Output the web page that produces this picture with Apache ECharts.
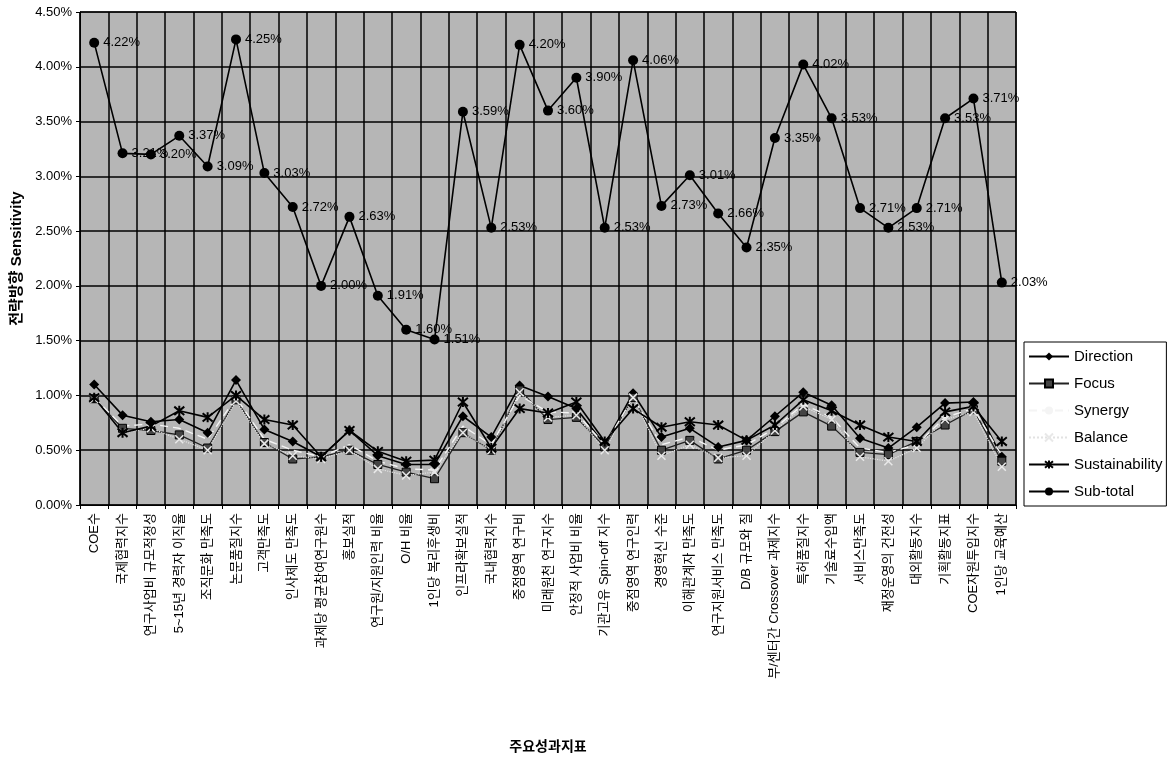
<!DOCTYPE html>
<html>
<head>
<meta charset="utf-8">
<script src="https://cdn.jsdelivr.net/npm/echarts@6/dist/echarts.min.js"></script>
<style>
  html, body { margin: 0; padding: 0; background: #fff; }
  #chart { width: 1174px; height: 767px; }
</style>
</head>
<body>
<div id="chart"></div>
<script>
// 주요성과지표 (key performance indicators)
const categories = [
  'COE수', '국제협력지수', '연구사업비 규모적정성', '5~15년 경력자 이직율', '조직문화 만족도',
  '논문품질지수', '고객만족도', '인사제도 만족도', '과제당 평균참여연구원수', '홍보실적',
  '연구원/지원인력 비율', 'O/H 비율', '1인당 복리후생비', '인프라확보실적', '국내협력지수',
  '중점영역 연구비', '미래원천 연구지수', '안정적 사업비 비율', '기관고유 Spin-off 지수', '중점영역 연구인력',
  '경영혁신 수준', '이해관계자 만족도', '연구지원서비스 만족도', 'D/B 규모와 질', '부/센터간 Crossover 과제지수',
  '특허품질지수', '기술료수입액', '서비스만족도', '재정운영의 건전성', '대외활동지수',
  '기획활동지표', 'COE자원투입지수', '1인당 교육예산'
];

// Sensitivity per strategic direction, in percent
const direction = [1.10, 0.82, 0.76, 0.78, 0.66, 1.14, 0.69, 0.58, 0.44, 0.68, 0.45, 0.37, 0.37, 0.81, 0.62, 1.09, 0.99, 0.88, 0.55, 1.02, 0.62, 0.70, 0.53, 0.59, 0.81, 1.03, 0.91, 0.61, 0.52, 0.71, 0.93, 0.94, 0.44];
const focus = [0.97, 0.70, 0.68, 0.64, 0.52, 0.96, 0.57, 0.42, 0.44, 0.50, 0.37, 0.30, 0.24, 0.66, 0.50, 1.05, 0.78, 0.80, 0.53, 0.98, 0.50, 0.59, 0.42, 0.50, 0.67, 0.85, 0.72, 0.48, 0.46, 0.58, 0.73, 0.87, 0.40];
const synergy = [0.98, 0.72, 0.74, 0.70, 0.60, 0.98, 0.60, 0.50, 0.44, 0.55, 0.40, 0.33, 0.32, 0.72, 0.55, 1.00, 0.85, 0.84, 0.55, 0.98, 0.55, 0.62, 0.50, 0.55, 0.70, 0.92, 0.80, 0.52, 0.48, 0.55, 0.80, 0.88, 0.45];
const balance = [0.97, 0.66, 0.70, 0.60, 0.50, 0.95, 0.56, 0.45, 0.42, 0.50, 0.33, 0.27, 0.30, 0.66, 0.50, 1.03, 0.80, 0.82, 0.50, 0.98, 0.45, 0.55, 0.43, 0.45, 0.68, 0.90, 0.78, 0.44, 0.40, 0.52, 0.78, 0.85, 0.35];
const sustainability = [0.98, 0.66, 0.72, 0.86, 0.80, 1.00, 0.78, 0.73, 0.44, 0.68, 0.49, 0.40, 0.41, 0.94, 0.52, 0.88, 0.84, 0.94, 0.58, 0.88, 0.71, 0.76, 0.73, 0.59, 0.73, 0.96, 0.86, 0.73, 0.62, 0.58, 0.85, 0.90, 0.58];
const subTotal = [4.22, 3.21, 3.20, 3.37, 3.09, 4.25, 3.03, 2.72, 2.00, 2.63, 1.91, 1.60, 1.51, 3.59, 2.53, 4.20, 3.60, 3.90, 2.53, 4.06, 2.73, 3.01, 2.66, 2.35, 3.35, 4.02, 3.53, 2.71, 2.53, 2.71, 3.53, 3.71, 2.03];

const yTicks = { min: 0, max: 4.5, interval: 0.5 };

const FONT = 'Arial, "Liberation Sans", "Noto Sans CJK KR", sans-serif';
const pct = v => v.toFixed(2) + '%';

const crossPath = 'path://M0,0L10,10M10,0L0,10';
const starPath = 'path://M0,0L10,10M10,0L0,10M5,-1L5,11';

const chart = echarts.init(document.getElementById('chart'), null, { renderer: 'canvas' });

const baseLine = (name, data, extra) => Object.assign({
  name: name,
  type: 'line',
  data: data,
  z: 3,
  animation: false,
  lineStyle: { color: '#000', width: 1.6 },
  itemStyle: { color: '#000' },
  symbolSize: 8
}, extra);

chart.setOption({
  backgroundColor: '#fff',
  textStyle: { fontFamily: FONT, color: '#000' },
  grid: { left: 80, top: 12, right: 158, bottom: 262, backgroundColor: '#b6b6b6', show: true, borderColor: '#000', borderWidth: 1 },
  legend: {
    orient: 'vertical',
    left: 1024,
    top: 342,
    backgroundColor: '#fff',
    borderColor: '#000',
    borderWidth: 1,
    padding: [7, 4, 7, 4],
    itemWidth: 40,
    itemHeight: 10,
    itemGap: 12,
    textStyle: { fontSize: 15, color: '#000', fontFamily: FONT },
    data: ['Direction', 'Focus', 'Synergy', 'Balance', 'Sustainability', 'Sub-total']
  },
  xAxis: {
    type: 'category',
    data: categories,
    boundaryGap: true,
    name: '주요성과지표',
    nameLocation: 'middle',
    nameGap: 235,
    nameTextStyle: { fontSize: 14, color: '#000', fontWeight: 'bold', fontFamily: FONT },
    axisLine: { lineStyle: { color: '#000', width: 1 } },
    axisTick: { show: true, length: 4, alignWithLabel: false, lineStyle: { color: '#000' } },
    axisLabel: { rotate: 90, interval: 0, fontSize: 13, color: '#000', margin: 8, fontFamily: FONT },
    splitLine: { show: true, interval: 0, lineStyle: { color: '#000', width: 1.5 } }
  },
  yAxis: {
    type: 'value',
    min: yTicks.min,
    max: yTicks.max,
    interval: yTicks.interval,
    name: '전략방향 Sensitivity',
    nameLocation: 'middle',
    nameGap: 55,
    nameRotate: 90,
    nameTextStyle: { fontSize: 15, color: '#000', fontWeight: 'bold', fontFamily: FONT },
    axisLine: { show: true, lineStyle: { color: '#000', width: 1 } },
    axisTick: { show: true, length: 4, lineStyle: { color: '#000' } },
    axisLabel: { formatter: v => v.toFixed(2) + '%', fontSize: 13, color: '#000', margin: 8, fontFamily: FONT },
    splitLine: { show: true, lineStyle: { color: '#000', width: 1.5 } }
  },
  series: [
    baseLine('Direction', direction, { symbol: 'diamond', symbolSize: 10 }),
    baseLine('Focus', focus, {
      symbol: 'rect', symbolSize: 8,
      lineStyle: { color: '#222', width: 1.3 },
      itemStyle: { color: '#444', borderColor: '#000', borderWidth: 1 }
    }),
    baseLine('Synergy', synergy, {
      symbol: 'none',
      lineStyle: { color: '#f4f4f4', width: 1.4, type: [8, 5] },
      itemStyle: { color: '#f4f4f4' }
    }),
    baseLine('Balance', balance, {
      symbol: crossPath, symbolSize: 8,
      lineStyle: { color: '#e2e2e2', width: 1.2, type: 'dotted' },
      itemStyle: { color: 'transparent', borderColor: '#e8e8e8', borderWidth: 1.5 }
    }),
    baseLine('Sustainability', sustainability, {
      symbol: starPath, symbolSize: 10,
      lineStyle: { color: '#000', width: 1.6 },
      itemStyle: { color: 'transparent', borderColor: '#000', borderWidth: 2 }
    }),
    baseLine('Sub-total', subTotal, {
      symbol: 'circle', symbolSize: 10,
      lineStyle: { color: '#000', width: 1.6 },
      label: {
        show: true,
        position: 'right',
        distance: 4,
        formatter: p => pct(p.value),
        fontSize: 13,
        color: '#000',
        fontFamily: FONT
      }
    })
  ]
});
</script>
</body>
</html>
